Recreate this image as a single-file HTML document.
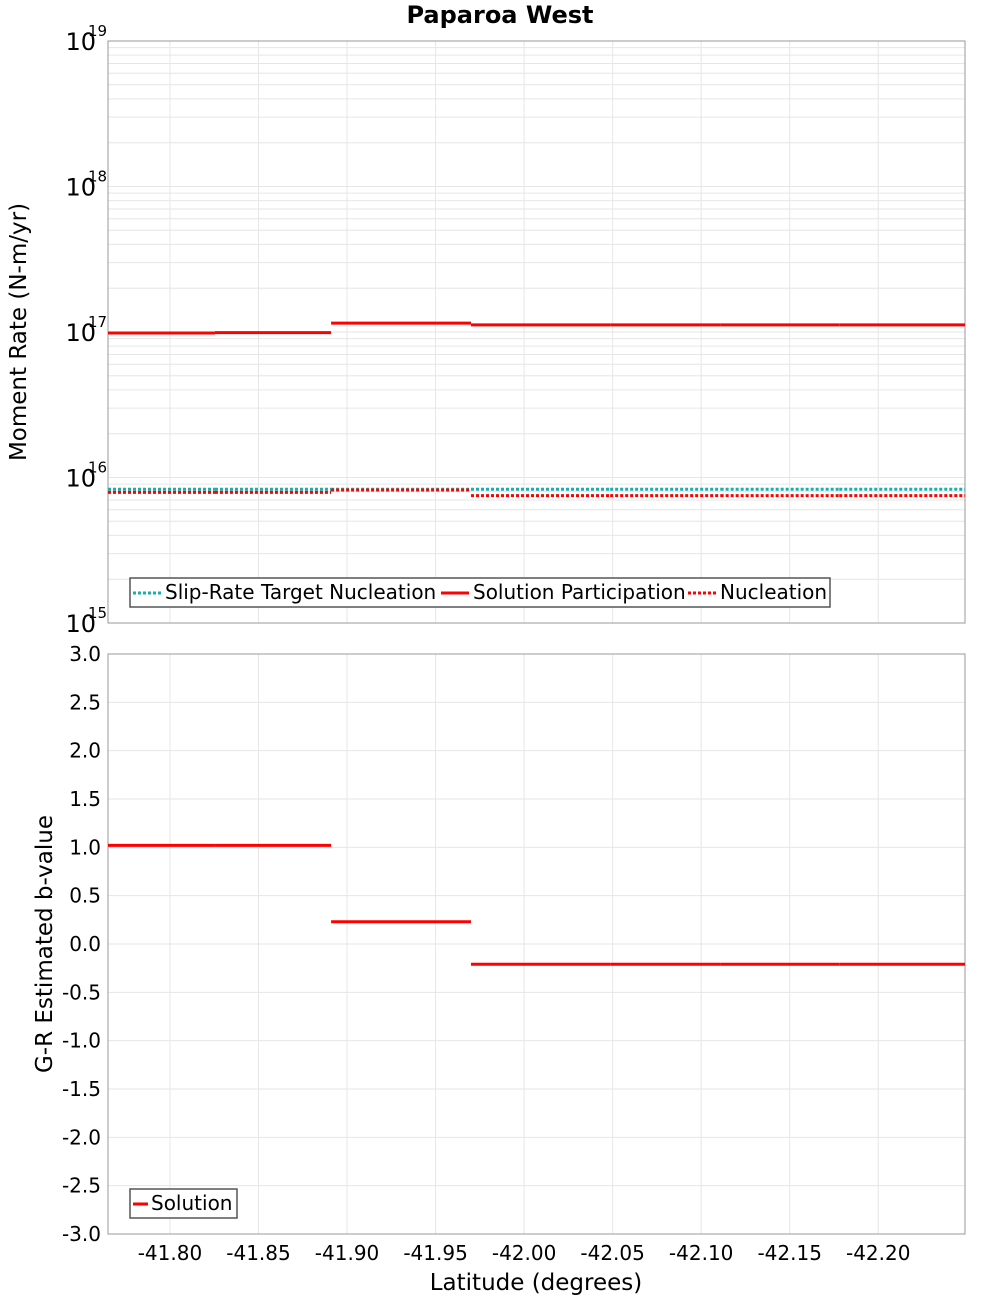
<!DOCTYPE html>
<html><head><meta charset="utf-8"><style>
body{margin:0;background:#fff;font-family:"Liberation Sans","DejaVu Sans",sans-serif}
svg text{font-family:"DejaVu Sans","Liberation Sans",sans-serif}
</style></head><body>
<svg id="c" width="1000" height="1300" xmlns="http://www.w3.org/2000/svg"></svg>
<script>
const boundaries=[-41.765,-41.8254,-41.891,-41.970,-42.0486,-42.111,-42.178,-42.249];
const participation=[9.85e16,9.9e16,1.15e17,1.12e17,1.12e17,1.12e17,1.12e17];
const targetNucl=[8.3e15,8.3e15,8.3e15,8.3e15,8.3e15,8.3e15,8.3e15];
const nucleation=[7.9e15,7.9e15,8.2e15,7.5e15,7.5e15,7.5e15,7.5e15];
const bvalues=[1.02,1.02,0.23,-0.21,-0.21,-0.21,-0.21];
const xTicks=[-41.80,-41.85,-41.90,-41.95,-42.00,-42.05,-42.10,-42.15,-42.20];
const yTopExp=[15,16,17,18,19];
const bTicks=[3.0,2.5,2.0,1.5,1.0,0.5,0.0,-0.5,-1.0,-1.5,-2.0,-2.5,-3.0];

const svg=document.getElementById('c');const NS='http://www.w3.org/2000/svg';
function mk(t,a,p){const e=document.createElementNS(NS,t);for(const k in a)e.setAttribute(k,a[k]);(p||svg).appendChild(e);return e;}
const L=108,R=965,T1=41,B1=623,T2=654,B2=1234;
const X0=-41.765,X1=-42.249;
const xs=v=>L+(v-X0)/(X1-X0)*(R-L);
const ys1=v=>B1-(Math.log10(v)-15)/4*(B1-T1);
const ys2=v=>B2-(v+3)/6*(B2-T2);

let t=mk('text',{x:500,y:23,'text-anchor':'middle','font-size':24,'font-weight':'bold'});t.textContent='Paparoa West';


let g=mk('g',{});
for(let e=15;e<19;e++)for(let m=1;m<10;m++){const y=ys1(m*Math.pow(10,e));mk('line',{x1:L,x2:R,y1:y,y2:y,stroke:'#e6e6e6','stroke-width':1},g);}
xTicks.forEach(v=>{mk('line',{x1:xs(v),x2:xs(v),y1:T1,y2:B1,stroke:'#e6e6e6'},g);mk('line',{x1:xs(v),x2:xs(v),y1:T2,y2:B2,stroke:'#e6e6e6'},g);});
bTicks.forEach(v=>mk('line',{x1:L,x2:R,y1:ys2(v),y2:ys2(v),stroke:'#e6e6e6'},g));
let f=mk('rect',{x:L,y:T1,width:R-L,height:B1-T1,fill:'none',stroke:'#999'});
f=mk('rect',{x:L,y:T2,width:R-L,height:B2-T2,fill:'none',stroke:'#999'});

yTopExp.forEach(e=>{const y=ys1(Math.pow(10,e));
 const tx=mk('text',{x:96,y:y+9,'text-anchor':'end','font-size':24});tx.textContent='10';
 
 const s=mk('text',{x:88,y:y-5,'font-size':15});s.textContent=e;
 });
t=mk('text',{x:0,y:0,'text-anchor':'middle','font-size':23,transform:'translate(26,332) rotate(-90)'});t.textContent='Moment Rate (N-m/yr)';


bTicks.forEach(v=>{const tx=mk('text',{x:101,y:ys2(v)+7,'text-anchor':'end','font-size':20});tx.textContent=v.toFixed(1);
 });
t=mk('text',{x:0,y:0,'text-anchor':'middle','font-size':23,transform:'translate(52,944) rotate(-90)'});t.textContent='G-R Estimated b-value';


xTicks.forEach(v=>{const tx=mk('text',{x:xs(v),y:1260,'text-anchor':'middle','font-size':20});tx.textContent=v.toFixed(2);
 });
t=mk('text',{x:536,y:1290,'text-anchor':'middle','font-size':23});t.textContent='Latitude (degrees)';


function series(vals,ys,name,color,dash){
 const gg=mk('g',{});
 vals.forEach((v,i)=>{const a={x1:xs(boundaries[i]),x2:xs(boundaries[i+1]),y1:ys(v),y2:ys(v),stroke:color,'stroke-width':3};
  if(dash)a['stroke-dasharray']='3,2';const l=mk('line',a,gg);
  });
}
series(targetNucl,ys1,'slip-rate-target-nucleation','#1aaeae',true);
series(nucleation,ys1,'nucleation','#f00',true);
series(participation,ys1,'solution-participation','#f00',false);
series(bvalues,ys2,'solution-b-value','#f00',false);

let lg=mk('g',{});
mk('rect',{x:130,y:578,width:700,height:29,fill:'#fff',stroke:'#555','stroke-width':1.5},lg);
const items=[['Slip-Rate Target Nucleation','#1aaeae',true,133],['Solution Participation','#f00',false,441],['Nucleation','#f00',true,688]];
items.forEach(([n,c,d,x])=>{const a={x1:x,x2:x+28,y1:593,y2:593,stroke:c,'stroke-width':3};if(d)a['stroke-dasharray']='3,2';mk('line',a,lg);
 const tx=mk('text',{x:x+32,y:599,'font-size':20},lg);tx.textContent=n;});
lg=mk('g',{});
mk('rect',{x:130,y:1189,width:107,height:29,fill:'#fff',stroke:'#555','stroke-width':1.5},lg);
mk('line',{x1:133,x2:148,y1:1204,y2:1204,stroke:'#f00','stroke-width':3},lg);
t=mk('text',{x:151,y:1210,'font-size':20},lg);t.textContent='Solution';
</script>
</body></html>
